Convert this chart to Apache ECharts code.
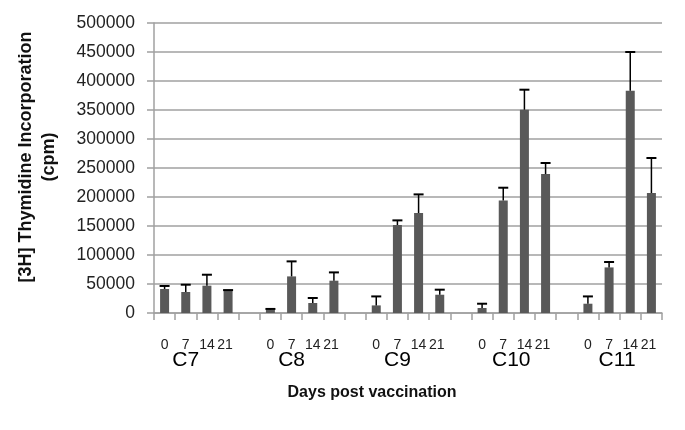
<!DOCTYPE html>
<html>
<head>
<meta charset="utf-8">
<script src="https://cdn.jsdelivr.net/npm/echarts@6/dist/echarts.min.js"></script>
<style>html,body{margin:0;padding:0;background:#fff;}#c{width:685px;height:430px;}</style>
</head>
<body>
<div id="c"></div>
<script>
// ---- data ----
const groups = ['C7', 'C8', 'C9', 'C10', 'C11'];
const days = ['0', '7', '14', '21'];
const yTicks = [0, 50000, 100000, 150000, 200000, 250000, 300000, 350000, 400000, 450000, 500000];
const meanC7 = [41400, 36200, 47100, 38500];
const meanC8 = [5700, 63100, 17200, 55700];
const meanC9 = [13100, 151700, 172400, 31500];
const meanC10 = [8600, 194100, 350500, 239600];
const meanC11 = [16000, 78600, 383200, 206900];
const errC7 = [5200, 12600, 18900, 1000];
const errC8 = [1300, 25900, 8700, 14300];
const errC9 = [15500, 8000, 32100, 8700];
const errC10 = [7400, 21900, 34500, 19000];
const errC11 = [12600, 9300, 66800, 60300];

const means = [meanC7, meanC8, meanC9, meanC10, meanC11];
const errs = [errC7, errC8, errC9, errC10, errC11];

// build 24 slots: 4 days per group, one empty slot between groups
const cats = [], groupCats = [], barData = [], errData = [];
groups.forEach((g, gi) => {
  if (gi > 0) { cats.push(''); groupCats.push(''); barData.push('-'); }
  days.forEach((d, di) => {
    const idx = cats.length;
    cats.push(d);
    groupCats.push(di === 1 ? g : '');
    barData.push(means[gi][di]);
    errData.push([idx, means[gi][di], errs[gi][di]]);
  });
});

const FONT = 'Liberation Sans, Arial, sans-serif';
const chart = echarts.init(document.getElementById('c'), null, {renderer: 'canvas'});
chart.setOption({
  animation: false,
  backgroundColor: '#fff',
  grid: {left: 154, right: 23, top: 23, bottom: 117, containLabel: false},
  xAxis: [{
    type: 'category', data: cats, position: 'bottom',
    boundaryGap: true,
    axisLine: {show: true, lineStyle: {color: '#a0a0a0', width: 1.5}},
    axisTick: {show: true, length: 7, inside: false, interval: 0, lineStyle: {color: '#a0a0a0', width: 1.5}},
    axisLabel: {interval: 0, margin: 25, fontSize: 14, color: '#222', fontFamily: FONT,
      formatter: v => (v === '21') ? '{s|' + v + '}' : v,
      rich: {s: {fontSize: 14, color: '#222', fontFamily: FONT, padding: [0, 6, 0, 0]}}},
    name: 'Days post vaccination', nameLocation: 'middle', nameGap: 72,
    nameTextStyle: {fontSize: 16, fontWeight: 'bold', color: '#111', fontFamily: FONT, padding: [0, 72, 0, 0]}
  }, {
    type: 'category', data: groupCats, position: 'bottom',
    boundaryGap: true,
    axisLine: {show: false}, axisTick: {show: false},
    axisLabel: {interval: 0, margin: 37, fontSize: 21, color: '#000', fontFamily: FONT,
      formatter: v => (v === 'C10' || v === 'C11') ? '{s|' + v + '}' : v,
      rich: {s: {fontSize: 21, color: '#000', fontFamily: FONT, padding: [0, 0, 0, 16]}}}
  }],
  yAxis: {
    type: 'value', min: yTicks[0], max: yTicks[yTicks.length - 1], interval: yTicks[1] - yTicks[0],
    axisLine: {show: true, lineStyle: {color: '#a0a0a0', width: 1.5}},
    axisTick: {show: true, length: 7, lineStyle: {color: '#a0a0a0', width: 1.5}},
    splitLine: {show: true, lineStyle: {color: '#a0a0a0', width: 1.5}},
    axisLabel: {fontSize: 17.5, color: '#222', fontFamily: FONT, margin: 19, formatter: v => String(v)},
    name: '[3H] Thymidine Incorporation\n(cpm)', nameLocation: 'middle', nameRotate: 90, nameGap: 93,
    nameTextStyle: {fontSize: 18, fontWeight: 'bold', color: '#111', fontFamily: FONT, lineHeight: 23, padding: [0, 0, 0, 22]}
  },
  series: [{
    type: 'bar', data: barData, xAxisIndex: 0, barWidth: 9,
    itemStyle: {color: '#595959'}
  }, {
    type: 'custom', xAxisIndex: 0, data: errData,
    encode: {x: 0, y: 1},
    renderItem: (params, api) => {
      const x = api.value(0), m = api.value(1), e = api.value(2);
      const b = api.coord([x, m]);
      const t = api.coord([x, m + e]);
      const hw = 5;
      return {type: 'group', children: [
        {type: 'line', shape: {x1: b[0], y1: b[1], x2: t[0], y2: t[1]}, style: {stroke: '#000', lineWidth: 1.5}},
        {type: 'line', shape: {x1: t[0] - hw, y1: t[1], x2: t[0] + hw, y2: t[1]}, style: {stroke: '#000', lineWidth: 2}}
      ]};
    },
    z: 5
  }]
});
</script>
</body>
</html>
